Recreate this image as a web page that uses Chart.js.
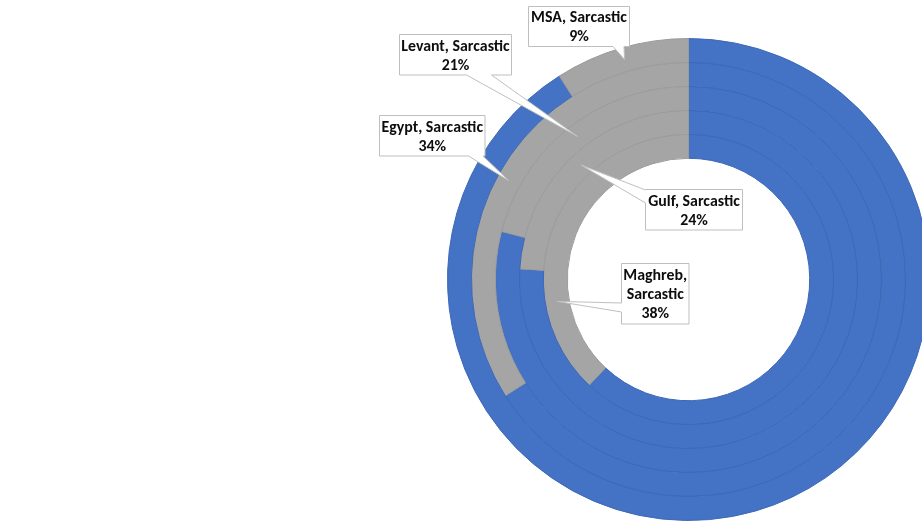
<!DOCTYPE html>
<html><head><meta charset="utf-8">
<script src="https://cdn.jsdelivr.net/npm/chart.js@4/dist/chart.umd.min.js"></script>
<style>
html,body{margin:0;padding:0;background:#fff;overflow:hidden;}
#wrap{position:relative;width:922px;height:525px;overflow:hidden;background:#fff;}
canvas{position:absolute;left:0;top:0;}
</style></head><body>
<div id="wrap"><canvas id="c" width="1000" height="525"></canvas></div>
<script>
// ---- data ----
const categories = ['Non-sarcastic', 'Sarcastic'];
const regions = ['MSA', 'Egypt', 'Levant', 'Gulf', 'Maghreb'];   // outer ring -> inner ring
const nonSarcasticPct = [91, 66, 79, 76, 62];
const sarcasticPct = [9, 34, 21, 24, 38];

// ---- styles / layout ----
const segColors = ['#4472C4', '#A5A5A5'];
const segBorders = ['#3D68B6', '#9B9B9B'];
const labelLayout = {
  MSA:     { x: 528.5, y: 6.5,   w: 101,  h: 40,   side: 'bottom', b0: 84.5, b1: 95.5, tipFrac: 0.5 },
  Levant:  { x: 399.5, y: 34.5,  w: 112,  h: 40.5, side: 'bottom', b0: 67,   b1: 92,   tipFrac: 0.5 },
  Egypt:   { x: 379.5, y: 115.5, w: 105.5,h: 40.5, side: 'bottom', b0: 89,   b1: 103.5,tipFrac: 0.5 },
  Gulf:    { x: 645.5, y: 189.5, w: 97,   h: 40.5, side: 'left',   b0: 0.5,  b1: 13.5, tipFrac: 0.5 },
  Maghreb: { x: 621.5, y: 263.5, w: 67.5, h: 60.5, side: 'left',   b0: 39.5, b1: 48.5, tipFrac: 0.273, split: true }
};

const datasets = regions.map((reg, i) => ({
  label: reg,
  data: [nonSarcasticPct[i], sarcasticPct[i]],
  backgroundColor: segColors,
  borderColor: segBorders,
  borderWidth: 1,
  hoverBorderWidth: 1
}));

const calloutPlugin = {
  id: 'callouts',
  afterDatasetsDraw(chart) {
    const ctx = chart.ctx;
    ctx.save();
    const fam = "Carlito, Lato, 'Liberation Sans', sans-serif";
    let size = 16;
    ctx.font = `bold ${size}px ${fam}`;
    const mw = ctx.measureText('Levant, Sarcastic').width;
    size = size * 108.5 / mw;
    ctx.font = `bold ${size}px ${fam}`;
    regions.forEach((reg, i) => {
      const L = labelLayout[reg];
      const arc = chart.getDatasetMeta(i).data[1];
      const p = arc.getProps(['x', 'y', 'startAngle', 'endAngle', 'innerRadius', 'outerRadius'], true);
      const a = p.startAngle + (p.endAngle - p.startAngle) * L.tipFrac;
      const r = (p.innerRadius + p.outerRadius) / 2;
      const tx = p.x + r * Math.cos(a), ty = p.y + r * Math.sin(a);
      const x0 = L.x, y0 = L.y, x1 = L.x + L.w, y1 = L.y + L.h;
      ctx.beginPath();
      ctx.moveTo(x0, y0);
      ctx.lineTo(x1, y0);
      ctx.lineTo(x1, y1);
      if (L.side === 'bottom') { ctx.lineTo(x0 + L.b1, y1); ctx.lineTo(tx, ty); ctx.lineTo(x0 + L.b0, y1); }
      ctx.lineTo(x0, y1);
      if (L.side === 'left') { ctx.lineTo(x0, y0 + L.b1); ctx.lineTo(tx, ty); ctx.lineTo(x0, y0 + L.b0); }
      ctx.closePath();
      ctx.fillStyle = '#ffffff';
      ctx.fill();
      ctx.strokeStyle = '#BFBFBF';
      ctx.lineWidth = 1;
      ctx.stroke();

      const pct = sarcasticPct[i] + '%';
      const lines = L.split ? [reg + ',', categories[1], pct] : [reg + ', ' + categories[1], pct];
      ctx.fillStyle = '#0d0d0d';
      ctx.textAlign = 'center';
      ctx.textBaseline = 'middle';
      const cx = x0 + L.w / 2, cy = y0 + L.h / 2;
      const lh = 19;
      lines.forEach((t, k) => {
        ctx.fillText(t, cx, cy + (k - (lines.length - 1) / 2) * lh + 1.5);
      });
    });
    ctx.restore();
  }
};

new Chart(document.getElementById('c'), {
  type: 'doughnut',
  data: { labels: categories, datasets },
  options: {
    responsive: false,
    animation: false,
    events: [],
    cutout: '50.3%',
    layout: { padding: { left: 447, right: 70, top: 38, bottom: 4 } },
    plugins: { legend: { display: false }, tooltip: { enabled: false } }
  },
  plugins: [calloutPlugin]
});
</script>
</body></html>
